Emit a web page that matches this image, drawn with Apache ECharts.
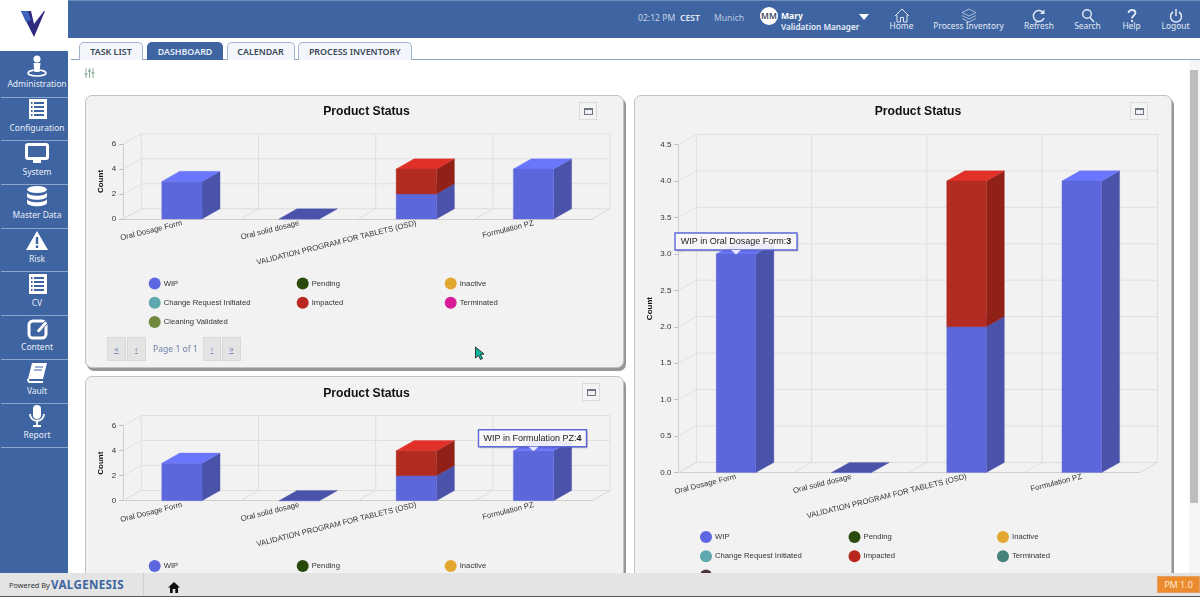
<!DOCTYPE html>
<html><head><meta charset="utf-8">
<script src="https://cdn.jsdelivr.net/npm/echarts@6/dist/echarts.min.js"></script>
<style>
html,body{margin:0;padding:0;width:1200px;height:597px;overflow:hidden;background:#fff;font-family:"Noto Sans",sans-serif}
.abs,.abs *{box-sizing:border-box}
.abs{position:absolute}
#top{left:68px;top:0;width:1132px;height:38px;background:#3e64a1;border-top:1px solid #6f8dbb}
#side{left:0;top:51px;width:68px;height:522px;background:#3e64a1}
#logo{left:0;top:0;width:68px;height:51px;background:#fff}
.sep{position:absolute;left:1px;width:67px;height:1px;background:#8ba5cc}
.slab{position:absolute;left:0;width:74px;text-align:center;color:#e8eef7;font-size:8.5px;line-height:12px;white-space:nowrap}
.sic{position:absolute;left:21px;width:32px;height:24px}
.hd{position:absolute;color:#d9e3f2;font-size:8.6px;line-height:12px;white-space:nowrap}
.hl{position:absolute;color:#e3eaf5;font-size:8.4px;line-height:12px;text-align:center;white-space:nowrap;transform:translateX(-50%)}
.tab{position:absolute;box-sizing:border-box;top:42px;height:18px;border:1px solid #9fb4d2;border-bottom:none;border-radius:5px 5px 0 0;background:#f3f6fa;color:#3b4658;font-size:8.9px;font-weight:600;line-height:18px;text-align:center}
.tab.on{background:#3e64a1;border-color:#3e64a1;color:#e8eef7}
#tline{left:71px;top:59px;width:1129px;height:1px;background:#93a4be}
.panel{position:absolute;box-sizing:border-box;background:#f2f2f2;border:1px solid #c2c2c2;border-radius:7px;box-shadow:2px 3px 0 #979797}
.chart{position:absolute}
.rbtn{position:absolute;box-sizing:border-box;width:18px;height:18px;border:1px solid #dcdcdc;background:#f4f4f4}
.rbtn i{position:absolute;box-sizing:border-box;left:3.500px;top:4.500px;width:9px;height:7px;background:#eef0f4;border:1.4px solid #6e7480;border-top-width:2.600px}
.pg{position:absolute;box-sizing:border-box;top:337px;height:24px;background:#e4e4e4;border:1px solid #d8d8d8;color:#7d8fbc;font-size:9px;line-height:22px;text-align:center;text-decoration:underline}
#pgt{position:absolute;left:153px;top:342px;color:#6e80a8;font-size:8.6px;line-height:14px;white-space:nowrap}
#foot{left:0;top:573px;width:1200px;height:24px;background:#e4e4e4;border-bottom:1px solid #555;z-index:20}
#track{left:1189px;top:60px;width:11px;height:513px;background:#f6f6f6}
#thumb{left:1190px;top:70px;width:8px;height:433px;background:#bdbdbd}
</style></head><body>
<div id="top" class="abs"></div>
<div id="logo" class="abs"><svg width="68" height="51"><path d="M21 11 L31 11 L34 24 L44 11 L45 11 L34 37 Z" fill="#2f2a7d"/><path d="M21 11 L28 11 L31 20 L26 22 Z" fill="#3e64c0"/></svg></div>
<div id="side" class="abs"></div>
<div id="tline" class="abs"></div>
<div id="track" class="abs"></div><div id="thumb" class="abs"></div>
<svg class="abs" style="left:84px;top:67px" width="11" height="12"><g stroke="#8fae9a" stroke-width="1" fill="none"><path d="M2 1V11M5.500 1V11M9 1V11"/><path d="M0.500 7H3.500M4 4H7M7.500 6H10.500" stroke-width="1.600"/></g></svg>
<div id="p1" class="panel" style="left:85px;top:95px;width:539px;height:273px"></div>
<div id="p2" class="panel" style="left:85px;top:376px;width:539px;height:260px"></div>
<div id="p3" class="panel" style="left:634px;top:95px;width:538px;height:540px"></div>
<div id="c1" class="chart" style="left:85px;top:95px;width:541px;height:276px"></div>
<div id="c2" class="chart" style="left:85px;top:376px;width:541px;height:276px"></div>
<div id="c3" class="chart" style="left:634px;top:95px;width:540px;height:520px"></div>
<div class="rbtn" style="left:579px;top:102px"><i></i></div>
<div class="rbtn" style="left:582px;top:383px"><i></i></div>
<div class="rbtn" style="left:1130px;top:102px"><i></i></div>
<div class="pg" style="left:107px;width:19px">«</div><div class="pg" style="left:127px;width:19px">‹</div>
<div id="pgt">Page 1 of 1</div>
<div class="pg" style="left:203px;width:18px">›</div><div class="pg" style="left:222px;width:19px">»</div>
<svg class="abs" style="left:474px;top:346px;z-index:5" width="11" height="15"><path d="M1.500 1 L1.500 12 L4.500 9.500 L6.500 13.500 L8.500 12.500 L6.500 8.500 L10 8 Z" fill="#12b6a2" stroke="#111" stroke-width="0.800"/></svg>
<div id="foot" class="abs">
  <div style="position:absolute;left:9px;top:6px;font-size:7.4px;line-height:12px;color:#333">Powered By</div>
  <div style="position:absolute;left:51px;top:3px;font-size:11.6px;line-height:18px;font-weight:700;letter-spacing:.35px;color:#3e64a1">VALGENESIS</div>
  <div style="position:absolute;left:143px;top:0;width:1px;height:23px;background:#d0d0d0"></div>
  <svg style="position:absolute;left:168px;top:9px" width="12" height="11"><path d="M6 0 L12 5.500 H10 V11 H7.300 V7 H4.700 V11 H2 V5.500 H0 Z" fill="#111"/></svg>
  <div style="position:absolute;left:1157px;top:3px;width:43px;height:17px;background:#ec8b2e;color:#fbe9d4;font-size:9px;line-height:15px;text-align:center;border:1px solid #e2a062">PM 1.0</div>
</div>
<script>
// ---- chart data ----
var categories = ['Oral Dosage Form', 'Oral solid dosage', 'VALIDATION PROGRAM FOR TABLETS (OSD)', 'Formulation PZ'];
var statusNames = ['WIP', 'Pending', 'Inactive', 'Change Request Initiated', 'Impacted', 'Terminated', 'Cleaning Validated'];
var wipValues = [3, 0, 2, 4];
var pendingValues = [0, 0, 0, 0];
var inactiveValues = [0, 0, 0, 0];
var changeRequestValues = [0, 0, 0, 0];
var impactedValues = [0, 0, 2, 0];
var terminatedValues = [0, 0, 0, 0];
var cleaningValues = [0, 0, 0, 0];
var smallTicks = [0, 2, 4, 6];
var largeTicks = [0, 0.5, 1, 1.5, 2, 2.5, 3, 3.5, 4, 4.5];
var chartTitle = 'Product Status';
var axisName = 'Count';
// ---- page text ----
var sideLabels = ['Administration', 'Configuration', 'System', 'Master Data', 'Risk', 'CV', 'Content', 'Vault', 'Report'];
var tabLabels = ['TASK LIST', 'DASHBOARD', 'CALENDAR', 'PROCESS INVENTORY'];
var headerLinks = ['Home', 'Process Inventory', 'Refresh', 'Search', 'Help', 'Logout'];

var seriesValues = [wipValues, pendingValues, inactiveValues, changeRequestValues, impactedValues, terminatedValues, cleaningValues];
var faceColors = {WIP: ['#5c67dc', '#4a52a9', '#6a76fb'], Impacted: ['#b32c22', '#912117', '#e03028']};

function shapes(points, fill) { return {type: 'polygon', shape: {points: points}, style: {fill: fill, stroke: fill, lineWidth: 0.3}}; }
function lineEl(pts, color) { return {type: 'polyline', shape: {points: pts}, style: {stroke: color, fill: 'none', lineWidth: 1}}; }

function build(id, cfg) {
  var chart = echarts.init(document.getElementById(id), null, {renderer: 'canvas'});
  var series = [];
  // back walls and floor
  series.push({
    type: 'custom', name: '_walls', silent: true, z: 1, clip: false,
    data: cfg.ticks.map(function (t) { return [0, t]; }),
    renderItem: function (p, api) {
      var c = p.coordSys, y = api.coord([0, api.value(1)])[1], kids = [];
      var x0 = c.x, x1 = c.x + c.width;
      kids.push(lineEl([[x0, y], [x0 + cfg.dx, y - cfg.dy], [x1 + cfg.dx, y - cfg.dy]], api.value(1) === 0 ? '#dcdcdc' : '#e0e0e0'));
      if (api.value(1) === 0) {
        kids.push(lineEl([[x1, y], [x1 + cfg.dx, y - cfg.dy]], '#dcdcdc'));
        for (var i = 0; i <= categories.length; i++) {
          var x = x0 + i * c.width / categories.length;
          kids.push(lineEl([[x, y], [x + cfg.dx, y - cfg.dy], [x + cfg.dx, c.y - cfg.dy]], '#dedede'));
        }
      }
      return {type: 'group', children: kids};
    }
  });
  statusNames.forEach(function (name, s) {
    var vals = seriesValues[s];
    series.push({
      type: 'custom', name: name, z: 2, clip: false,
      itemStyle: {color: cfg.colors[s]},
      data: vals.map(function (v, i) { return [i, v]; }),
      renderItem: function (p, api) {
        var i = api.value(0), v = api.value(1);
        var base = 0, total = 0;
        seriesValues.forEach(function (a, k) { if (k < s) base += a[i]; total += a[i]; });
        if (v === 0 && !(s === 0 && total === 0)) return {type: 'group', children: []};
        var w = api.size([1, 0])[0] * cfg.barRatio;
        var b = api.coord([i, base]), t = api.coord([i, base + v]);
        var l = b[0] - w / 2, r = b[0] + w / 2, d = cfg.dx, e = cfg.dy;
        var col = faceColors[name] || [cfg.colors[s], cfg.colors[s], cfg.colors[s]];
        var topFill = v === 0 ? col[1] : col[2];
        return {type: 'group', children: [
          shapes([[r, t[1]], [r + d, t[1] - e], [r + d, b[1] - e], [r, b[1]]], col[1]),
          shapes([[l, t[1]], [l + d, t[1] - e], [r + d, t[1] - e], [r, t[1]]], topFill),
          shapes([[l, t[1]], [r, t[1]], [r, b[1]], [l, b[1]]], col[0])
        ]};
      }
    });
  });
  // callout for the hovered bar
  if (cfg.callout) series.push({
    type: 'custom', name: '_callout', silent: true, z: 9, clip: false,
    data: [[cfg.callout.cat, cfg.callout.val]],
    renderItem: function (p, api) {
      var pt = api.coord([api.value(0), api.value(1)]);
      var w = cfg.callout.w, h = 17, x = pt[0] - cfg.callout.off, y = pt[1] - 21;
      return {type: 'group', children: [
        {type: 'rect', shape: {x: x + 1.5, y: y + 1.5, width: w, height: h}, style: {fill: 'rgba(60,60,60,.25)'}},
        {type: 'rect', shape: {x: x, y: y, width: w, height: h}, style: {fill: 'rgba(255,255,255,.88)', stroke: '#5c67dc', lineWidth: 1.4}},
        {type: 'polygon', shape: {points: [[pt[0] - 5, y + h], [pt[0] + 5, y + h], [pt[0], pt[1] + 0.5]]}, style: {fill: 'rgba(255,255,255,.85)'}},
        {type: 'text', style: {x: x + w / 2, y: y + h / 2, align: 'center', verticalAlign: 'middle',
          text: '{a|' + statusNames[0] + ' in ' + categories[api.value(0)] + ':}{b|' + api.value(1) + '}',
          rich: {a: {fontFamily: 'Liberation Sans', fontSize: 9, fill: '#222', color: '#222'}, b: {fontFamily: 'Liberation Sans', fontSize: 9, fontWeight: 'bold', fill: '#222', color: '#222'}}}}
      ]};
    }
  });
  function legend(left, names) {
    return {show: true, orient: 'vertical', left: left, top: cfg.legendTop, itemWidth: 12, itemHeight: 12, itemGap: 7.3,
      icon: 'circle', selectedMode: false, padding: 0, data: names,
      textStyle: {fontFamily: 'Liberation Sans', fontSize: 7.7, color: '#333', padding: [0, 0, 0, -2]}};
  }
  chart.setOption({
    animation: false, backgroundColor: 'transparent',
    title: {text: chartTitle, left: cfg.titleX, top: cfg.titleTop, textAlign: 'center', padding: 0,
      textStyle: {fontFamily: 'Liberation Sans', fontSize: 12.2, fontWeight: 'bold', color: '#111'}},
    legend: [legend(cfg.legendX, [statusNames[0], statusNames[3], statusNames[6]]),
             legend(cfg.legendX + cfg.legendStep, [statusNames[1], statusNames[4]]),
             legend(cfg.legendX + 2 * cfg.legendStep, [statusNames[2], statusNames[5]])],
    grid: {left: cfg.left, top: cfg.top, width: cfg.width, height: cfg.height},
    xAxis: {type: 'category', data: categories, boundaryGap: true,
      axisLine: {lineStyle: {color: '#cfcfcf'}}, axisTick: {show: false},
      axisLabel: {interval: 0, rotate: 14, margin: 4, fontFamily: 'Liberation Sans', fontSize: 7.7, color: '#333'}},
    yAxis: {type: 'value', min: cfg.ticks[0], max: cfg.ticks[cfg.ticks.length - 1], interval: cfg.ticks[1] - cfg.ticks[0],
      name: axisName, nameLocation: 'middle', nameGap: cfg.nameGap, nameMoveOverlap: false,
      nameTextStyle: {fontFamily: 'Liberation Sans', fontSize: 8, fontWeight: 'bold', color: '#111'},
      axisLine: {show: true, lineStyle: {color: '#cfcfcf'}}, axisTick: {show: true, length: 4, lineStyle: {color: '#bbb'}},
      splitLine: {show: false},
      axisLabel: {margin: 7, fontFamily: 'Liberation Sans', fontSize: 8, color: '#333',
        formatter: function (v) { return cfg.decimals ? v.toFixed(cfg.decimals) : String(v); }}},
    series: series
  });
}

var baseColors = ['#5c67e0', '#2a4a0c', '#e2a72e', '#5fa8ad', '#b9281f', '#d81b96', '#6e8a3c'];
var tallColors = ['#5c67e0', '#2a4a0c', '#e2a72e', '#5fa8ad', '#b9281f', '#44827b', '#4a333c'];
var small = {dx: 18, dy: 10.2, barRatio: 0.344, colors: baseColors, ticks: smallTicks, left: 38.3, width: 468.8, height: 75, top: 49,
  titleX: 281.5, titleTop: 11, nameGap: 19, legendX: 63.7, legendStep: 148, legendTop: 182.5, callout: null};
build('c1', small);
build('c2', Object.assign({}, small, {top: 49.7, titleTop: 11.5, legendTop: 184, callout: {cat: 3, val: 4, w: 108, off: 55}}));
build('c3', Object.assign({}, small, {colors: tallColors, ticks: largeTicks, decimals: 1, left: 44.4, width: 461, height: 328, top: 49.6,
  titleX: 284, nameGap: 25, legendX: 66, legendStep: 148.5, legendTop: 436, callout: {cat: 0, val: 3, w: 122, off: 61}}));

// ---- app chrome text ----
var seps = [96.7, 140, 183.7, 227.7, 271, 314.7, 359.3, 402.7, 446.7];
var labY = [78, 122, 166, 209, 253, 297, 341, 385, 429];
var iconSvg = [
 '<circle cx="16" cy="5" r="3.500" fill="#fff"/><path d="M12.500 9h7l-1 9h-5z" fill="#fff"/><ellipse cx="16" cy="19" rx="9" ry="3" fill="none" stroke="#fff" stroke-width="1.600"/>',
 '<rect x="8" y="1" width="18" height="20" fill="#fff"/><path d="M13 5h10M13 9h10M13 13h10M13 17h10" stroke="#3e64a1" stroke-width="1.800"/><path d="M10 5h1.500M10 9h1.500M10 13h1.500M10 17h1.500" stroke="#3e64a1" stroke-width="1.800"/>',
 '<rect x="5.500" y="2.500" width="21" height="14" rx="1.500" fill="#3e64a1" stroke="#fff" stroke-width="3"/><rect x="12" y="18" width="8" height="3" fill="#fff"/>',
 '<ellipse cx="16" cy="4.500" rx="10" ry="3.500" fill="#fff"/><path d="M6 7c0 5 20 5 20 0v4c0 5-20 5-20 0zM6 13.500c0 5 20 5 20 0v4c0 5-20 5-20 0z" fill="#fff"/>',
 '<path d="M16 2 L27 21 H5 Z" fill="#fff"/><rect x="14.800" y="8" width="2.400" height="7" fill="#3e64a1"/><rect x="14.800" y="16.500" width="2.400" height="2.500" fill="#3e64a1"/>',
 '<rect x="8" y="1" width="18" height="20" fill="#fff"/><path d="M13 5h10M13 9h10M13 13h10M13 17h10" stroke="#3e64a1" stroke-width="1.800"/><path d="M10 5h1.500M10 9h1.500M10 13h1.500M10 17h1.500" stroke="#3e64a1" stroke-width="1.800"/>',
 '<rect x="8" y="4" width="17" height="17" rx="4" fill="none" stroke="#fff" stroke-width="3"/><path d="M15 14 L24 4 L27 6 L18 16 Z" fill="#fff" stroke="#3e64a1"/>',
 '<path d="M11 2h15l-4 16H7z" fill="#fff"/><path d="M7 18c0 3 1 3 3 3h12" fill="none" stroke="#fff" stroke-width="2"/><path d="M14 6h8M13 9h8" stroke="#3e64a1"/>',
 '<rect x="12" y="0" width="8" height="14" rx="4" fill="#fff"/><path d="M9 9c0 9 14 9 14 0" fill="none" stroke="#fff" stroke-width="1.800"/><path d="M16 16v4M12 21h8" stroke="#fff" stroke-width="1.800"/>'
];
var side = document.getElementById('side');
sideLabels.forEach(function (t, i) {
  var s = document.createElement('div'); s.className = 'sep'; s.style.top = (seps[i] - 51) + 'px'; side.appendChild(s);
  var l = document.createElement('div'); l.className = 'slab'; l.style.top = (labY[i] - 51) + 'px'; l.textContent = t; side.appendChild(l);
  var ic = document.createElement('div'); ic.className = 'sic'; ic.style.top = (labY[i] - 51 - 24) + 'px';
  ic.innerHTML = '<svg width="32" height="24">' + iconSvg[i] + '</svg>'; side.appendChild(ic);
});
var tabX = [[79, 64], [147, 76], [226.5, 68], [298, 113.5]];
tabLabels.forEach(function (t, i) {
  var d = document.createElement('div'); d.className = 'tab' + (i === 1 ? ' on' : '');
  d.style.left = tabX[i][0] + 'px'; d.style.width = tabX[i][1] + 'px'; d.textContent = t; document.body.appendChild(d);
});
var top_ = document.getElementById('top');
function hd(x, y, t, st) { var d = document.createElement('div'); d.className = 'hd'; d.style.left = (x - 68) + 'px'; d.style.top = (y - 1) + 'px'; d.textContent = t; if (st) d.style.cssText += st; top_.appendChild(d); }
hd(638, 12, '02:12 PM', 'color:#c6d3e8');
hd(680, 12, 'CEST', 'font-weight:600;color:#e3eaf5');
hd(714, 12, 'Munich', 'color:#b9c8e0');
hd(781, 10, 'Mary', 'font-weight:700;color:#fff');
hd(781, 21, 'Validation Manager', 'font-weight:600;color:#e8eef7;font-size:8.2px');
var av = document.createElement('div');
av.style.cssText = 'position:absolute;left:692px;top:6px;width:18px;height:18px;border-radius:50%;background:#fff;color:#3b4a66;font-size:8.5px;font-weight:600;line-height:18px;text-align:center';
av.textContent = 'MM'; top_.appendChild(av);
var car = document.createElement('div');
car.style.cssText = 'position:absolute;left:791px;top:13px;width:0;height:0;border-left:5px solid transparent;border-right:5px solid transparent;border-top:6px solid #fff';
top_.appendChild(car);
var linkX = [901.5, 968.5, 1039, 1087.5, 1131.5, 1175.5];
var linkIcon = [
 '<path d="M1 8 L8 1 L15 8 M3 7V14H6.500V9.500H9.500V14H13V7" fill="none" stroke="#e3eaf5"/>',
 '<path d="M8 1L15 4.500L8 8L1 4.500ZM1 7.500L8 11L15 7.500M1 10.500L8 14L15 10.500" fill="none" stroke="#a9bcd9"/>',
 '<path d="M12.500 5A5.500 5.500 0 1 0 13 10" fill="none" stroke="#e3eaf5" stroke-width="1.500"/><path d="M13.500 1.500V6H9" fill="#e3eaf5"/>',
 '<circle cx="7" cy="6" r="4.300" fill="none" stroke="#e3eaf5" stroke-width="1.400"/><path d="M10 9.500L14 14" stroke="#e3eaf5" stroke-width="1.500"/>',
 '<path d="M4.500 5C4.500 1 11.500 1 11.500 5C11.500 7.500 8 7.500 8 10.500" fill="none" stroke="#e3eaf5" stroke-width="1.800"/><rect x="7" y="12" width="2" height="2" fill="#e3eaf5"/>',
 '<path d="M5 4A5.500 5.500 0 1 0 11 4M8 1V8" fill="none" stroke="#e3eaf5" stroke-width="1.500"/>'
];
headerLinks.forEach(function (t, i) {
  var d = document.createElement('div'); d.className = 'hl'; d.style.left = (linkX[i] - 68) + 'px'; d.style.top = '19px'; d.textContent = t; top_.appendChild(d);
  var s = document.createElement('div'); s.style.cssText = 'position:absolute;top:5px;left:' + (linkX[i] - 68 - 8) + 'px;width:16px;height:15px';
  s.innerHTML = '<svg width="16" height="15">' + linkIcon[i] + '</svg>'; top_.appendChild(s);
});
</script>
</body></html>
